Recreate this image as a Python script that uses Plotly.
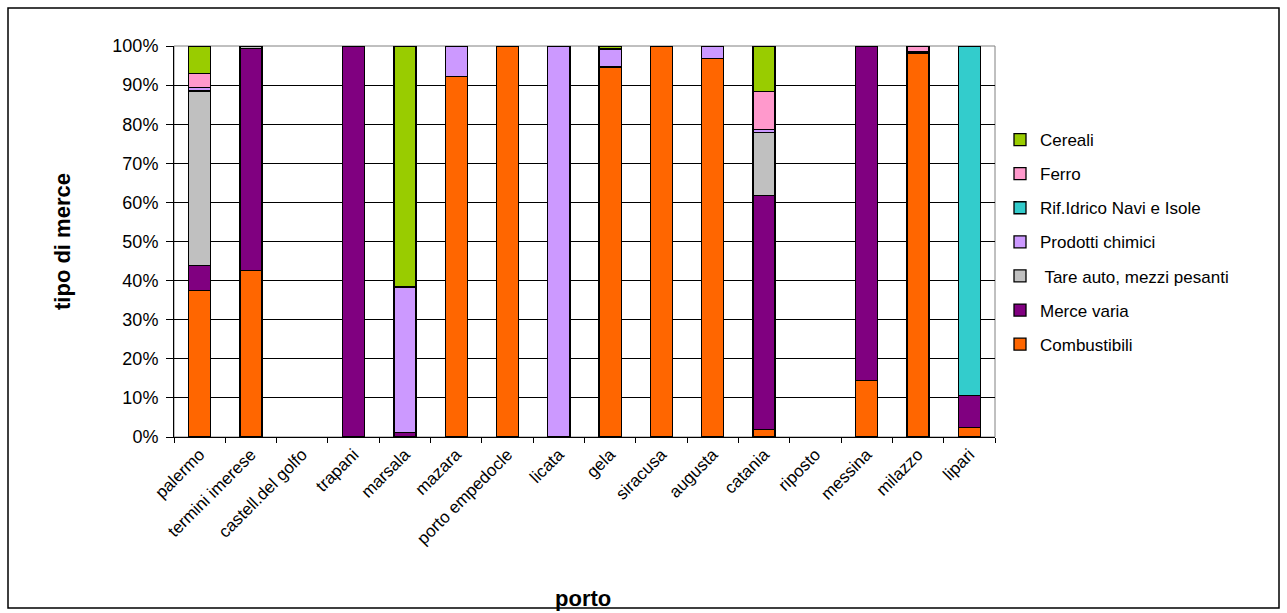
import plotly.graph_objects as go

ports = ["palermo", "termini imerese", "castell.del golfo", "trapani", "marsala", "mazara",
         "porto empedocle", "licata", "gela", "siracusa", "augusta", "catania", "riposto",
         "messina", "milazzo", "lipari"]

combustibili = [37.5, 42.5, 0, 0, 0, 92.2, 100, 0, 94.6, 100, 96.8, 2.0, 0, 14.5, 98.0, 2.5]
merce_varia = [6.4, 56.9, 0, 100, 1.2, 0, 0, 0, 0, 0, 0, 59.7, 0, 85.5, 0.5, 8.2]
tare_auto = [44.6, 0.6, 0, 0, 0, 0, 0, 0, 0, 0, 0, 16.1, 0, 0, 0, 0]
prodotti_chimici = [0.8, 0, 0, 0, 37.2, 7.8, 0, 100, 4.6, 0, 3.2, 0.9, 0, 0, 0, 0]
rif_idrico = [0, 0, 0, 0, 0, 0, 0, 0, 0, 0, 0, 0, 0, 0, 0, 89.3]
ferro = [3.7, 0, 0, 0, 0, 0, 0, 0, 0, 0, 0, 9.6, 0, 0, 1.5, 0]
cereali = [7.0, 0, 0, 0, 61.6, 0, 0, 0, 0.8, 0, 0, 11.7, 0, 0, 0, 0]

y_ticks = [0, 10, 20, 30, 40, 50, 60, 70, 80, 90, 100]
y_labels = ["0%", "10%", "20%", "30%", "40%", "50%", "60%", "70%", "80%", "90%", "100%"]

series = [
    ("Combustibili", combustibili, "#FF6600"),
    ("Merce varia", merce_varia, "#800080"),
    (" Tare auto, mezzi pesanti", tare_auto, "#C0C0C0"),
    ("Prodotti chimici", prodotti_chimici, "#CC99FF"),
    ("Rif.Idrico Navi e Isole", rif_idrico, "#33CCCC"),
    ("Ferro", ferro, "#FF99CC"),
    ("Cereali", cereali, "#99CC00"),
]

FONT = "Liberation Sans, Arial, sans-serif"

fig = go.Figure()
for i, (name, vals, col) in enumerate(series):
    fig.add_trace(go.Bar(
        x=ports, y=[v if v else None for v in vals], name=name,
        marker=dict(color=col, line=dict(color="black", width=1.3)),
        legendgroup="g%d" % i, legendrank=1000 - 10 * i,
    ))

W, H = 1287, 613
L, R, T, B = 174, 995, 46, 437
pw, ph = R - L, B - T

def px(x):
    return (x - L) / pw

def py(y):
    return (B - y) / ph

fig.update_layout(
    width=W, height=H,
    margin=dict(l=L, r=W - R, t=T, b=H - B, autoexpand=False),
    barmode="stack", bargap=0.57,
    paper_bgcolor="white", plot_bgcolor="white",
    font=dict(family=FONT, size=17, color="black"),
    showlegend=True,
    legend=dict(x=px(1000), y=py(122), xanchor="left", yanchor="top",
                traceorder="grouped", tracegroupgap=9,
                font=dict(family=FONT, size=17, color="black"),
                bgcolor="rgba(0,0,0,0)"),
    xaxis=dict(showline=True, linecolor="black", linewidth=1, ticks="outside",
               tickson="boundaries", ticklen=5, tickcolor="black", tickangle=-45,
               tickfont=dict(size=17), showgrid=False, fixedrange=True),
    yaxis=dict(range=[0, 100], tickvals=y_ticks, ticktext=y_labels, showline=True,
               linecolor="black", linewidth=1, ticks="outside", ticklen=7,
               tickcolor="black", showgrid=True, gridcolor="black", gridwidth=1,
               tickfont=dict(size=18), ticklabelstandoff=4,
               zeroline=False, fixedrange=True),
    shapes=[
        dict(type="rect", xref="paper", yref="paper", x0=0, x1=1, y0=0, y1=1,
             line=dict(color="#808080", width=1), layer="below"),
        dict(type="rect", xref="paper", yref="paper", x0=px(8), x1=px(1279),
             y0=py(608), y1=py(8), line=dict(color="black", width=1.5)),
    ],
    annotations=[
        dict(text="<b>tipo di merce</b>", xref="paper", yref="paper", x=px(62), y=py(242),
             textangle=-90, showarrow=False, font=dict(size=22, family=FONT),
             xanchor="center", yanchor="middle"),
        dict(text="<b>porto</b>", xref="paper", yref="paper", x=px(583), y=py(598),
             showarrow=False, font=dict(size=22, family=FONT),
             xanchor="center", yanchor="middle"),
    ],
)

fig.write_html("out.html", config={"displayModeBar": False},
               post_script="document.body.style.margin='0px';document.body.style.padding='0px';")
